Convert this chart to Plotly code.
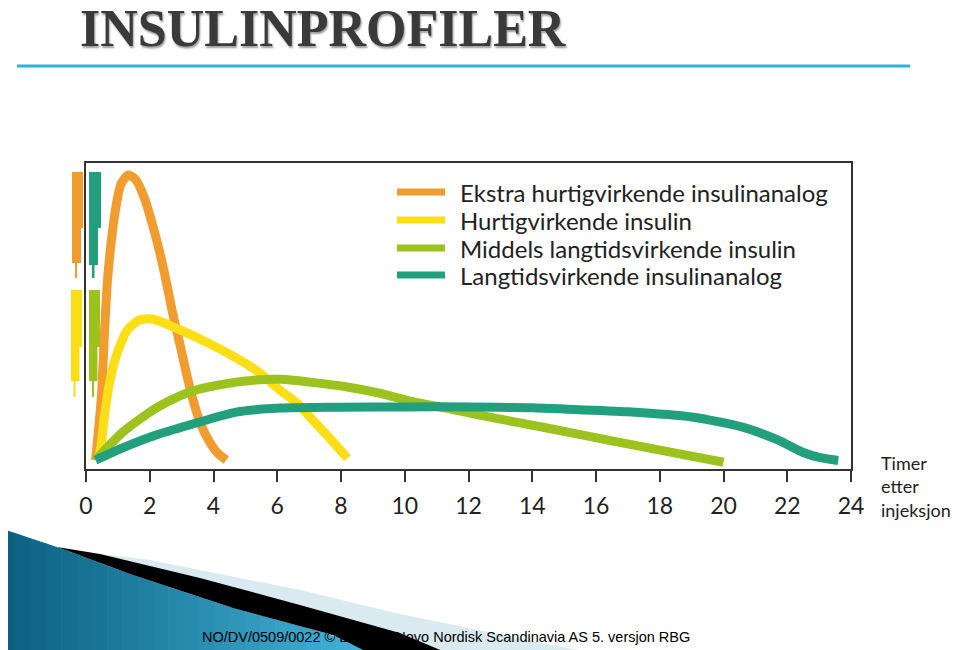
import plotly.graph_objects as go

# hours after injection (x) and relative insulin effect (y, 0-100)
orange_t = [0.3, 0.48, 0.58, 0.67, 0.79, 0.95, 1.1, 1.33, 1.57, 1.83, 2.09, 2.31, 2.52, 2.71, 2.93, 3.14, 3.34, 3.61, 3.88, 4.13, 4.4]
orange_y = [2.9, 23.2, 44.8, 61.1, 74.2, 86.3, 93.2, 96.1, 94.4, 88.6, 79.7, 70.9, 61.1, 51.3, 41.5, 31.7, 23.2, 14.4, 8.8, 5.2, 2.9]

yellow_t = [0.3, 0.42, 0.58, 0.74, 0.99, 1.3, 1.68, 2.09, 2.83, 3.77, 4.71, 5.45, 6.08, 6.61, 7.11, 7.65, 8.2]
yellow_y = [2.9, 4.6, 17.6, 28.4, 38.2, 45.4, 48.7, 49, 46, 41.5, 36.3, 31.4, 25.8, 21.6, 16, 10, 3.5]

green_t = [0.3, 1.15, 2.2, 3.25, 4.71, 5.45, 6.1, 7.1, 8.2, 9.2, 10.25, 11.3, 12.35, 14.46, 16.5, 18.5, 20]
green_y = [2.9, 12, 19.9, 25.2, 28.4, 29.2, 29.3, 28.3, 26.8, 24.8, 22, 19.9, 17.6, 13.4, 9.2, 5.2, 2.2]

teal_t = [0.3, 1.15, 2.2, 3.25, 4.71, 6.1, 8, 10, 12, 14, 15, 17, 19, 20.6, 21.7, 22.5, 23.0, 23.6]
teal_y = [2.9, 6.9, 11.1, 14.4, 18.6, 19.9, 20.2, 20.3, 20.3, 20, 19.6, 18.7, 17, 13.7, 9.5, 5.4, 3.8, 2.8]

names = ['Ekstra hurtigvirkende insulinanalog', 'Hurtigvirkende insulin',
         'Middels langtidsvirkende insulin', 'Langtidsvirkende insulinanalog']
colors = ['#f09c2e', '#fcde14', '#9cc21e', '#22a07e']
series = [(orange_t, orange_y), (yellow_t, yellow_y), (green_t, green_y), (teal_t, teal_y)]

x_ticks = list(range(0, 25, 2))

# page pixels of the plot area (the page body adds an 8px offset)
OFF = 8
W, H = 960 - OFF, 650 - OFF
L, R, T, B = 86, 851, 163, 469
def px(x):
    return (x - L) / (R - L)
def py(y):
    return (B - y) / (B - T)

fig = go.Figure()
for (t, y), name, color in zip(series, names, colors):
    fig.add_trace(go.Scatter(x=t, y=y, name=name, mode='lines', showlegend=False,
                             line=dict(color=color, width=9, shape='spline', smoothing=0.7)))

def poly(points):
    return 'M ' + ' L '.join(f'{px(a):.4f},{py(b):.4f}' for a, b in points) + ' Z'

shapes = []
# little syringes on the left
def syringe(x0, x1, top, step, bottom, notch, n0, n1, needle_end, color):
    shapes.append(dict(type='path', xref='paper', yref='paper', line_width=0, fillcolor=color,
                       path=poly([(x0, top), (x1, top), (x1, step), (x1 - notch, step),
                                  (x1 - notch, bottom), (x0, bottom)])))
    shapes.append(dict(type='rect', xref='paper', yref='paper', line_width=0, fillcolor=color,
                       x0=px(n0), x1=px(n1), y0=py(bottom), y1=py(needle_end)))

syringe(72, 83, 172, 228, 263, 2, 75, 77, 278, colors[0])
syringe(89, 101, 172, 228, 265, 3, 92, 94.5, 278, colors[3])
syringe(71, 82, 290, 347, 381, 2.5, 73.5, 75.5, 397, colors[1])
syringe(89, 100, 290, 347, 381, 2.5, 92, 94, 397, colors[2])

# title rule
shapes.append(dict(type='line', xref='paper', yref='paper', x0=px(17), x1=px(910), y0=py(66), y1=py(66),
                   line=dict(color='#2cb0dc', width=3)))

# legend swatches
legend_rows = [192, 220, 248, 275]
for row, color in zip(legend_rows, colors):
    shapes.append(dict(type='line', xref='paper', yref='paper', x0=px(397), x1=px(445), y0=py(row), y1=py(row),
                       line=dict(color=color, width=7)))

# bottom-left swoosh: blue wedge shaded in thin strips, pale streak and black band
blue_top = [(0, 528), (57, 547), (133, 575), (233, 608), (333, 635), (367, 652)]
def top_at(x):
    for (a, b), (c, d) in zip(blue_top, blue_top[1:]):
        if a <= x <= c:
            return b + (d - b) * (x - a) / (c - a)
    return 652
dark, light = (11, 96, 128), (66, 178, 216)
n_strips = 24
for i in range(n_strips):
    a, b = 367 * i / n_strips, 367 * (i + 1) / n_strips
    f = i / (n_strips - 1)
    rgb = tuple(round(d + (l - d) * f) for d, l in zip(dark, light))
    shapes.append(dict(type='path', xref='paper', yref='paper', line_width=0, fillcolor='rgb%s' % (rgb,),
                       path=poly([(a, top_at(a)), (b + 0.6, top_at(b + 0.6)), (b + 0.6, 652), (a, 652)])))
black_upper = [(57, 547), (100, 554), (200, 578), (300, 605), (400, 633), (445, 652)]
shapes.append(dict(type='path', xref='paper', yref='paper', line_width=0, fillcolor='#d9eaf1',
                   path=poly([(110, 555), (150, 560), (300, 590), (400, 614), (567, 648), (590, 652)]
                             + black_upper[::-1][:-1])))
shapes.append(dict(type='path', xref='paper', yref='paper', line_width=0, fillcolor='#000000',
                   path=poly(black_upper + blue_top[::-1][:-1])))

def label(text, x, y, size, family='Lato', anchor='left', **font):
    return dict(text=text, xref='paper', yref='paper', x=px(x), y=py(y), xanchor=anchor, yanchor='middle',
                align='left', showarrow=False,
                font=dict(family=family, size=size, color=font.pop('color', '#222'), **font))

annotations = [
    label('INSULINPROFILER', 78, 28, 52, family='Liberation Serif', color='#3a3a3a', weight='bold',
          shadow='1px 2px 2px #9a9a9a'),
    label('Timer<br>etter<br>injeksjon', 879, 486, 18),
    label('NO/DV/0509/0022 © D', 200, 637, 14.5, family='Liberation Sans', color='#000'),
    label('2009 Novo Nordisk Scandinavia AS 5. versjon RBG', 692, 637, 14.5, family='Liberation Sans',
          anchor='right', color='#000'),
]
for row, name in zip(legend_rows, names):
    annotations.append(label(name, 458, row, 24))

fig.update_layout(
    width=W, height=H,
    margin=dict(l=L - OFF, r=W - (R - OFF), t=T - OFF, b=H - (B - OFF)),
    paper_bgcolor='white', plot_bgcolor='white',
    showlegend=False,
    shapes=shapes, annotations=annotations,
)
fig.update_xaxes(range=[0, 24], tickvals=x_ticks, ticks='outside', ticklen=11, tickwidth=2, tickcolor='#333',
                 showline=True, linecolor='#333', linewidth=2, mirror=True, showgrid=False, zeroline=False,
                 ticklabelstandoff=4, tickfont=dict(family='Lato', size=23, color='#222'))
fig.update_yaxes(range=[0, 100], showticklabels=False, ticks='', showline=True, linecolor='#333',
                 linewidth=2, mirror=True, showgrid=False, zeroline=False)

fig.write_html('out.html')
